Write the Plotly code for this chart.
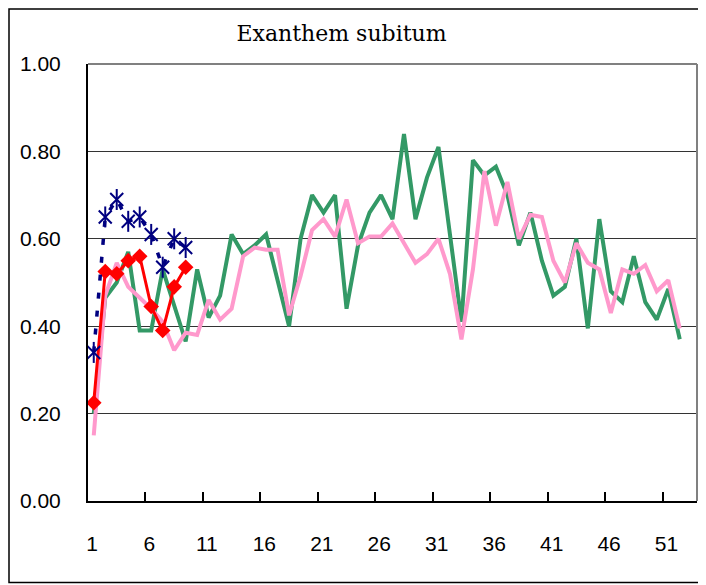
import plotly.graph_objects as go

weeks = list(range(1, 53))
early_weeks = list(range(1, 10))

green_vals = [0.20, 0.465, 0.50, 0.57, 0.39, 0.39, 0.53, 0.45, 0.365, 0.53,
              0.42, 0.47, 0.61, 0.565, 0.585, 0.61, 0.505, 0.40, 0.60, 0.70,
              0.66, 0.70, 0.44, 0.585, 0.66, 0.70, 0.645, 0.84, 0.645, 0.74,
              0.81, 0.61, 0.41, 0.78, 0.745, 0.765, 0.70, 0.585, 0.66, 0.55,
              0.47, 0.49, 0.60, 0.395, 0.645, 0.48, 0.455, 0.56, 0.455, 0.415,
              0.485, 0.37]

pink_vals = [0.15, 0.47, 0.545, 0.49, 0.465, 0.44, 0.41, 0.345, 0.385, 0.38,
             0.46, 0.415, 0.44, 0.56, 0.58, 0.575, 0.575, 0.425, 0.515, 0.62,
             0.645, 0.605, 0.69, 0.59, 0.605, 0.605, 0.635, 0.59, 0.545, 0.565,
             0.60, 0.52, 0.37, 0.53, 0.755, 0.63, 0.73, 0.60, 0.655, 0.65,
             0.55, 0.50, 0.59, 0.545, 0.53, 0.43, 0.53, 0.52, 0.54, 0.48,
             0.505, 0.395]

red_vals = [0.225, 0.525, 0.52, 0.55, 0.56, 0.445, 0.39, 0.49, 0.535]
blue_vals = [0.34, 0.65, 0.69, 0.64, 0.65, 0.61, 0.535, 0.60, 0.58]

x_tick_vals = [1, 6, 11, 16, 21, 26, 31, 36, 41, 46, 51]
x_tick_labels = ["1", "6", "11", "16", "21", "26", "31", "36", "41", "46", "51"]
y_tick_vals = [0, 0.2, 0.4, 0.6, 0.8, 1.0]

NAVY = "#000080"

fig = go.Figure()
fig.add_trace(go.Scatter(x=weeks, y=green_vals, mode="lines",
                         line=dict(color="#339966", width=4), showlegend=False))
fig.add_trace(go.Scatter(x=weeks, y=pink_vals, mode="lines",
                         line=dict(color="#FF99CC", width=4), showlegend=False))
fig.add_trace(go.Scatter(x=early_weeks, y=red_vals, mode="lines+markers",
                         line=dict(color="#FF0000", width=3),
                         marker=dict(symbol="diamond", size=12, color="#FF0000"),
                         showlegend=False))
fig.add_trace(go.Scatter(x=early_weeks, y=blue_vals, mode="lines+markers",
                         line=dict(color=NAVY, width=3.5, dash="6px,12px"),
                         marker=dict(symbol="x-thin-open", size=13, color=NAVY,
                                     line=dict(color=NAVY, width=2)),
                         showlegend=False))
fig.add_trace(go.Scatter(x=early_weeks, y=blue_vals, mode="markers",
                         marker=dict(symbol="line-ns-open", size=15, color=NAVY,
                                     line=dict(color=NAVY, width=2)),
                         showlegend=False))

W, H = 698, 577
L, R, T, B = 80, 9, 56, 83.5
pw = W - L - R
ph = H - T - B

# tick marks sit on the category boundaries (week - 0.5); labels shifted to category centre
x_boundaries = [v - 0.5 for v in x_tick_vals]

fig.update_layout(
    width=W, height=H,
    margin=dict(l=L, r=R, t=T, b=B, autoexpand=False),
    paper_bgcolor="white", plot_bgcolor="white",
    title=dict(text="Exanthem subitum", x=333.5 / W, xref="container",
               y=1 - 25 / H, yref="container", xanchor="center", yanchor="middle",
               font=dict(family="DejaVu Serif", size=22, color="black")),
    font=dict(family="Liberation Sans", size=21, color="black"),
    shapes=[
        dict(type="line", xref="paper", yref="paper", x0=0, x1=1, y0=1, y1=1,
             line=dict(color="#808080", width=2)),
        dict(type="line", xref="paper", yref="paper", x0=1, x1=1, y0=0, y1=1,
             line=dict(color="#808080", width=2)),
        dict(type="rect", xref="paper", yref="paper",
             x0=(1 - L) / pw, x1=(695 - L) / pw,
             y0=(T + ph - 575) / ph, y1=(T + ph - 1) / ph,
             line=dict(color="black", width=1.5), layer="below"),
    ],
    xaxis=dict(
        range=[0.5, 53.5], tickmode="array", tickvals=x_boundaries, ticktext=x_tick_labels,
        ticks="inside", ticklen=9, tickcolor="black", tickwidth=1.5,
        ticklabelshift=4,
        showgrid=False, zeroline=False,
        showline=True, linecolor="black", linewidth=2,
        ticklabelstandoff=23,
        tickfont=dict(family="Liberation Sans", size=21, color="black"),
    ),
    yaxis=dict(
        range=[0, 1], tickmode="array", tickvals=y_tick_vals, tickformat=".2f",
        ticks="", showgrid=True, gridcolor="#333333", gridwidth=1, zeroline=False,
        showline=True, linecolor="black", linewidth=2,
        ticklabelstandoff=21,
        tickfont=dict(family="Liberation Sans", size=21, color="black"),
    ),
)

fig.write_html("out.html")
